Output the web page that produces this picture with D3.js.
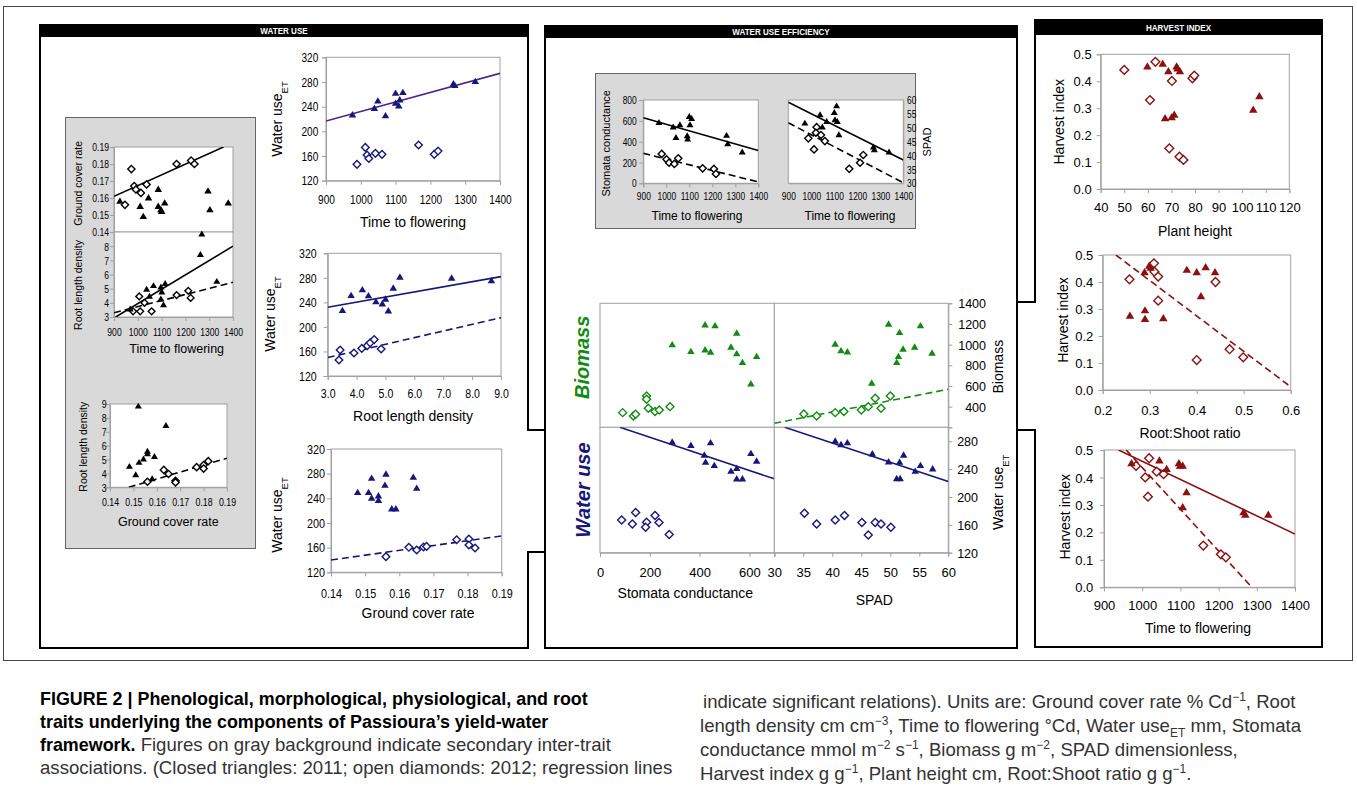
<!DOCTYPE html>
<html>
<head>
<meta charset="utf-8">
<script src="https://d3js.org/d3.v7.min.js"></script>
<style>
  body { margin:0; background:#fff; }
  #fig { position:absolute; left:0; top:0; }
  .cap { position:absolute; white-space:nowrap; font-family:'Liberation Sans',Arial,sans-serif;
         font-size:18.6px; line-height:20px; color:#333; }
  .cap b { color:#000; font-size:17.9px; }
  .cap sup, .cap sub { font-size:12px; line-height:0; }
</style>
</head>
<body>
<svg id="fig" width="1357" height="792"></svg>

<div class="cap" style="left:40px;top:689px"><b>FIGURE 2 | Phenological, morphological, physiological, and root</b></div>
<div class="cap" style="left:40px;top:712px"><b>traits underlying the components of Passioura’s yield-water</b></div>
<div class="cap" style="left:40px;top:735px"><b>framework.</b> Figures on gray background indicate secondary inter-trait</div>
<div class="cap" style="left:40px;top:758px">associations. (Closed triangles: 2011; open diamonds: 2012; regression lines</div>
<div class="cap" style="left:703px;top:692px">indicate significant relations). Units are: Ground cover rate % Cd<sup>−1</sup>, Root</div>
<div class="cap" style="left:700px;top:716px">length density cm cm<sup>−3</sup>, Time to flowering °Cd, Water use<sub>ET</sub> mm, Stomata</div>
<div class="cap" style="left:700px;top:740px">conductance mmol m<sup>−2</sup> s<sup>−1</sup>, Biomass g m<sup>−2</sup>, SPAD dimensionless,</div>
<div class="cap" style="left:700px;top:764px">Harvest index g g<sup>−1</sup>, Plant height cm, Root:Shoot ratio g g<sup>−1</sup>.</div>

<script>
// values: tri = closed triangles (2011), dia = open diamonds (2012)

// gray panel, left: ground cover rate / root length density vs time to flowering
var gcFlowTri = [[925,0.158],[1010,0.155],[1023,0.149],[1045,0.160],[1086,0.165],[1086,0.155],[1097,0.153],[1100,0.152],[1113,0.157],[1295,0.164],[1303,0.153],[1380,0.157]];
var gcFlowDia = [[946,0.156],[973,0.177],[985,0.167],[992,0.165],[1013,0.163],[1037,0.168],[1163,0.180],[1224,0.182],[1238,0.180]];
var gcFlowFit = [[900,0.161],[1360,0.19]];
var rldFlowTri = [[1269,8.85],[1263,7.4],[1332,5.5],[1037,4.95],[1066,5.2],[1115,5.35],[1097,5.1],[1101,4.75],[1049,4.45],[1097,4.25],[1108,3.85],[968,3.55]];
var rldFlowDia = [[1006,4.45],[1028,4.0],[1010,3.4],[980,3.4],[1058,3.4],[1163,4.55],[1212,4.85],[1222,4.35]];
var rldFlowFitTri = [[907,3.0],[1400,8.0]];
var rldFlowFitDia = [[900,3.3],[1400,5.45]];
var rldGcTri = [[0.1521,8.83],[0.1639,7.43],[0.1483,4.49],[0.151,3.89],[0.1524,4.78],[0.1543,5.02],[0.156,5.58],[0.156,5.4],[0.159,5.2],[0.158,3.6]];
var rldGcDia = [[0.156,3.4],[0.163,4.25],[0.165,3.96],[0.168,3.47],[0.168,3.35],[0.177,4.45],[0.180,4.6],[0.180,4.35],[0.182,4.88]];
var rldGcFit = [[0.148,3.0],[0.19,5.1]];

// water use panels
var wuFlowTri = [[976,226.5],[1039,237],[1049,249],[1071,225],[1100,261.6],[1100,245.4],[1109,241],[1112,250.8],[1121,262.7],[1266,276.8],[1270,274],[1329,280.5]];
var wuFlowDia = [[989,146.5],[1013,174],[1018,161.6],[1023,156],[1042,164.3],[1061,162.7],[1166,177.8],[1211,162.7],[1222,168]];
var wuFlowFit = [[900,216.8],[1400,294]];
var wuRldTri = [[3.51,226.5],[3.81,251],[4.2,260.3],[4.41,250.5],[4.67,240.8],[4.89,237.4],[5.0,245],[5.1,226],[5.27,263],[5.5,280.9],[7.29,279.3],[8.67,275]];
var wuRldDia = [[3.43,162.4],[3.39,146],[3.91,157.4],[4.18,165],[4.37,169.5],[4.47,174],[4.61,179.3],[4.85,164]];
var wuRldFitTri = [[3,232],[9,282]];
var wuRldFitDia = [[3,150],[9,215]];
var wuGcTri = [[0.1478,249.2],[0.151,249.2],[0.1519,272.4],[0.1519,240],[0.1539,243.8],[0.1539,236.5],[0.1561,279],[0.1558,261],[0.1578,222.7],[0.159,222.7],[0.1641,274],[0.1651,256.2]];
var wuGcDia = [[0.1561,145.4],[0.1628,160.5],[0.1651,156.2],[0.1671,161],[0.168,162],[0.1768,172.7],[0.1804,174],[0.1804,164.3],[0.1822,159.5]];
var wuGcFit = [[0.14,140],[0.19,179]];

// gray panel, WUE: stomata conductance / SPAD vs time to flowering
var gsFlowTri = [[968,582],[1030,538],[1042,438],[1059,560],[1091,454],[1093,422],[1100,640],[1110,621],[1103,560],[1262,458],[1267,378],[1330,298]];
var gsFlowDia = [[980,282],[1001,230],[1012,198],[1035,186],[1052,240],[1158,144],[1207,138],[1216,90]];
var gsFlowFitTri = [[900,630],[1400,314]];
var gsFlowFitDia = [[900,288],[1400,13]];
var spadFlowTri = [[972,51.6],[1038,54.6],[1048,50.2],[1067,52.2],[1100,55.4],[1110,57.8],[1103,52.8],[1113,52.2],[1120,47.4],[1270,43],[1274,42],[1338,41.2]];
var spadFlowDia = [[987,46.2],[1012,42.2],[1023,50.2],[1020,48.2],[1042,47.4],[1059,45.2],[1165,35.2],[1212,37.4],[1226,40.2]];
var spadFlowFitTri = [[900,59.2],[1400,38.4]];
var spadFlowFitDia = [[900,51.8],[1400,30.2]];

// biomass and water use vs stomata conductance / SPAD
var bioGsTri = [[290,997],[365,932],[422,1190],[462,1181],[422,948],[444,926],[526,974],[549,1110],[549,910],[572,826],[629,884],[606,619]];
var bioGsDia = [[91,342],[134,310],[143,326],[187,503],[187,471],[194,384],[221,352],[238,368],[281,400]];
var bioSpadTri = [[40.5,1003],[41.5,939],[42.6,929],[46.8,626],[49.7,1197],[51.6,1116],[51.1,826],[51.4,884],[52.2,955],[54.2,974],[55.2,1181],[57.2,916]];
var bioSpadDia = [[35.1,329],[37.3,310],[40.5,342],[42.0,352],[45.0,368],[46.2,400],[47.4,481],[48.4,384],[50.0,503]];
var bioSpadFit = [[30,239],[60,568]];
var wuGsTri = [[290,278.6],[365,273.8],[444,277.6],[419,259.8],[424,249.7],[459,245],[526,236.8],[549,240.6],[549,225.7],[572,225.7],[606,262.2],[629,251.2]];
var wuGsDia = [[87,167],[130,161.3],[143,177.6],[187,163.7],[183,156.5],[221,173.3],[237,163.2],[278,146]];
var wuGsFit = [[80,300],[700,226]];
var wuSpadTri = [[40.5,280],[41.5,275],[42.6,277.6],[46.9,261.7],[49.7,250.2],[51.6,249.7],[52.3,259.8],[51.1,226.2],[51.7,226.2],[54.3,236.8],[55.2,245],[57.3,240.1]];
var wuSpadDia = [[35.2,176.7],[37.3,161.3],[40.5,167],[42.1,173.3],[45.1,163.2],[46.2,145.5],[47.4,163.2],[48.4,161.3],[50.1,156.5]];
var wuSpadFit = [[31.8,300],[60,222.3]];

// harvest index panels
var hiHtTri = [[59.8,0.454],[66.3,0.464],[68.7,0.436],[72.2,0.454],[72.6,0.446],[73.6,0.436],[67.3,0.262],[70.1,0.265],[71.2,0.275],[104.7,0.293],[107.3,0.343]];
var hiHtDia = [[50,0.442],[63.2,0.472],[60.9,0.33],[70.2,0.401],[78.9,0.411],[79.7,0.421],[69.1,0.151],[73.4,0.12],[75.1,0.108]];
var hiRsTri = [[0.258,0.274],[0.289,0.435],[0.29,0.294],[0.29,0.262],[0.299,0.459],[0.302,0.452],[0.329,0.265],[0.379,0.444],[0.4,0.435],[0.419,0.454],[0.439,0.435],[0.409,0.346]];
var hiRsDia = [[0.257,0.41],[0.309,0.469],[0.31,0.438],[0.318,0.42],[0.318,0.331],[0.44,0.4],[0.4,0.111],[0.47,0.151],[0.499,0.121]];
var hiRsFit = [[0.228,0.5],[0.6,0.012]];
var hiFlowTri = [[972,0.451],[1045,0.461],[1064,0.43],[1096,0.451],[1099,0.442],[1106,0.442],[1116,0.345],[1106,0.291],[1265,0.272],[1270,0.263],[1330,0.263]];
var hiFlowDia = [[984,0.442],[1018,0.47],[1008,0.4],[1015,0.33],[1038,0.421],[1056,0.412],[1160,0.152],[1206,0.12],[1219,0.109]];
var hiFlowFitTri = [[938,0.5],[1400,0.194]];
var hiFlowFitDia = [[958,0.5],[1287,0]];

// tick values
var flowTicks = [900,1000,1100,1200,1300,1400];
var wuTicks = [120,160,200,240,280,320];
var gcTicks = [0.14,0.15,0.16,0.17,0.18,0.19];
var rldTicks = [3,4,5,6,7,8,9];
var hiTicks = [0,0.1,0.2,0.3,0.4,0.5];
var htTicks = [40,50,60,70,80,90,100,110,120];
var rsTicks = [0.2,0.3,0.4,0.5,0.6];
var gsTicks = [0,200,400,600,800];
var spadTicks = [30,35,40,45,50,55,60];
var bioTicks = [400,600,800,1000,1200,1400];

var NAVY = "#17177a", GREEN = "#138a13", RED = "#8a1111", PURPLE = "#4a2889";
var SANS = "'Liberation Sans',Arial,sans-serif";

var svg = d3.select("#fig");
var clipN = 0;

function triPath(s){ var h = s*0.85; return "M0,"+(-h*0.62)+"L"+(s/2)+","+(h*0.38)+"L"+(-s/2)+","+(h*0.38)+"Z"; }
function diaPath(r){ return "M0,"+(-r)+"L"+r+",0L0,"+r+"L"+(-r)+",0Z"; }

// narrow the tick labels the way the original figure has them
function squeeze(sel, sx){
  if (!sx || sx === 1) return;
  sel.each(function(){
    var t = d3.select(this), x = +t.attr("x") || 0, y = +t.attr("y") || 0;
    t.attr("x", 0).attr("y", 0).attr("transform", "translate(" + x + "," + y + ") scale(" + sx + ",1)");
  });
}

function styleAxis(a, fs){
  a.attr("font-family", SANS).attr("font-size", fs);
  a.select(".domain").attr("stroke", "#a0a0a0");
  a.selectAll(".tick line").attr("stroke", "#a0a0a0");
  a.selectAll("text").attr("fill", "#000");
}

function plot(o){
  var x = d3.scaleLinear().domain(o.xd).range([o.x0, o.x1]);
  var y = d3.scaleLinear().domain(o.yd).range([o.y1, o.y0]);
  var g = svg.append("g");
  var cid = "clip" + (clipN++);
  g.append("clipPath").attr("id", cid).append("rect")
    .attr("x", o.x0).attr("y", o.y0).attr("width", o.x1 - o.x0).attr("height", o.y1 - o.y0);
  g.append("rect").attr("x", o.x0).attr("y", o.y0).attr("width", o.x1 - o.x0).attr("height", o.y1 - o.y0)
    .attr("fill", "#fff").attr("stroke", "#a0a0a0").attr("stroke-width", 1);

  var fs = o.fs || 12;
  if (o.yt) {
    var ax0 = o.yRight ? o.x1 : o.x0;
    var ya = (o.yRight ? d3.axisRight(y) : d3.axisLeft(y)).tickValues(o.yt)
      .tickFormat(o.yf || d3.format("d")).tickSize(o.tick == null ? 4 : o.tick);
    var ag = g.append("g").attr("transform", "translate(" + ax0 + ",0)").call(ya);
    styleAxis(ag, fs);
    ag.selectAll("text").attr("text-anchor", o.yAnchor || "end").attr("x", o.ylx - ax0).attr("dy", "0.35em");
    squeeze(ag.selectAll("text"), o.sx);
  }
  if (o.xt) {
    var xa = d3.axisBottom(x).tickValues(o.xt).tickFormat(o.xf || d3.format("d")).tickSize(o.tick == null ? 4 : o.tick);
    var bg = g.append("g").attr("transform", "translate(0," + o.y1 + ")").call(xa);
    styleAxis(bg, o.xfs || fs);
    bg.selectAll("text").attr("y", o.xly - o.y1).attr("dy", "0.35em");
    squeeze(bg.selectAll("text"), o.sx);
  }
  (o.fits || []).forEach(function(f){
    g.append("path").attr("clip-path", "url(#" + cid + ")")
      .attr("d", d3.line().x(function(d){ return x(d[0]); }).y(function(d){ return y(d[1]); })(f.pts))
      .attr("fill", "none").attr("stroke", f.color || o.color).attr("stroke-width", 1.6)
      .attr("stroke-dasharray", f.dash ? "7,4" : null);
  });
  g.selectAll(null).data(o.dia || []).join("path")
    .attr("transform", function(d){ return "translate(" + x(d[0]) + "," + y(d[1]) + ")"; })
    .attr("d", diaPath(o.r || 3.8)).attr("fill", "#fff").attr("stroke", o.color).attr("stroke-width", 1.4);
  g.selectAll(null).data(o.tri || []).join("path")
    .attr("transform", function(d){ return "translate(" + x(d[0]) + "," + y(d[1]) + ")"; })
    .attr("d", triPath(o.s || 7.5)).attr("fill", o.color);
  return { x: x, y: y };
}

function txt(x, y, s, o){
  o = o || {};
  var t = svg.append("text").attr("x", x).attr("y", y).attr("dy", "0.35em")
    .attr("text-anchor", o.anchor || "middle")
    .attr("font-family", SANS).attr("font-size", o.fs || 14).attr("fill", o.fill || "#000");
  if (o.rot) t.attr("transform", "rotate(" + o.rot + "," + x + "," + y + ")");
  if (o.sx) t.attr("x", 0).attr("y", 0).attr("transform", "translate(" + x + "," + y + ") scale(" + o.sx + ",1)");
  if (o.bold) t.attr("font-weight", "bold");
  if (o.italic) t.attr("font-style", "italic");
  t.append("tspan").text(s);
  if (o.sub) t.append("tspan").attr("baseline-shift", "sub").attr("font-size", (o.fs || 14) * 0.68).text(o.sub);
  return t;
}

function box(d){
  svg.append("path").attr("d", d).attr("fill", "none").attr("stroke", "#000").attr("stroke-width", 2);
}
function header(x0, x1, y0, y1, s){
  svg.append("rect").attr("x", x0).attr("y", y0).attr("width", x1 - x0).attr("height", y1 - y0).attr("fill", "#000");
  txt((x0 + x1) / 2, (y0 + y1) / 2, s, { fs: 9.5, bold: true, fill: "#fff", sx: 0.85 });
}

// outer frame and section boxes
svg.append("rect").attr("x", 3.5).attr("y", 6.5).attr("width", 1349).attr("height", 654)
  .attr("fill", "none").attr("stroke", "#444").attr("stroke-width", 1);
box("M40,25H528V430H545V552H528V648H40Z");
box("M545,26H1017V648H545Z");
box("M1035,20H1322V647H1035V430H1017V302H1035Z");
header(40, 528, 25, 37, "WATER USE");
header(545, 1017, 26, 38, "WATER USE EFFICIENCY");
header(1035, 1322, 20, 35, "HARVEST INDEX");

// gray panels
svg.append("rect").attr("x", 65.5).attr("y", 117.5).attr("width", 190).attr("height", 431)
  .attr("fill", "#d9d9d9").attr("stroke", "#666");
svg.append("rect").attr("x", 595.5).attr("y", 73.5).attr("width", 320).attr("height", 155)
  .attr("fill", "#d9d9d9").attr("stroke", "#666");

// ---- WATER USE column ----
plot({ x0:114, x1:233, y0:147, y1:232, xd:[900,1400], yd:[0.14,0.19], yt:gcTicks, yf:d3.format(".2f"),
  ylx:109, fs:11, sx:0.78, color:"#000", tri:gcFlowTri, dia:gcFlowDia, r:3.6, s:7.5,
  fits:[{pts:gcFlowFit}] });
plot({ x0:114, x1:233, y0:232, y1:317, xd:[900,1400], yd:[3,9], yt:[3,4,5,6,7,8], ylx:109,
  xt:flowTicks, xly:331.7, fs:11, sx:0.78, color:"#000", tri:rldFlowTri, dia:rldFlowDia, r:3.4, s:7,
  fits:[{pts:rldFlowFitTri}, {pts:rldFlowFitDia, dash:true}] });
txt(78.3, 183.3, "Ground cover rate", { fs:10.5, rot:-90 });
txt(78.3, 285, "Root length density", { fs:10.5, rot:-90 });
txt(176.7, 349, "Time to flowering", { fs:12.5 });

plot({ x0:110, x1:227, y0:404, y1:487.3, xd:[0.14,0.19], yd:[3,9], yt:rldTicks, ylx:106.7,
  xt:gcTicks, xf:d3.format(".2f"), xly:501.7, fs:11, sx:0.8, color:"#000",
  tri:rldGcTri, dia:rldGcDia, r:3.6, s:7, fits:[{pts:rldGcFit, dash:true}] });
txt(83.3, 446.7, "Root length density", { fs:10.5, rot:-90 });
txt(168.3, 521.7, "Ground cover rate", { fs:12.5 });

plot({ x0:326, x1:500, y0:57.3, y1:180.7, xd:[900,1400], yd:[120,320], yt:wuTicks, ylx:318.3,
  xt:flowTicks, xly:199.3, fs:12, sx:0.84, color:NAVY, tri:wuFlowTri, dia:wuFlowDia,
  fits:[{pts:wuFlowFit, color:PURPLE}] });
txt(277, 119, "Water use", { rot:-90, sub:"ET" });
txt(413, 221.7, "Time to flowering");

plot({ x0:327.7, x1:501, y0:253.3, y1:376, xd:[3,9], yd:[120,320], yt:wuTicks, ylx:316.7,
  xt:[3,4,5,6,7,8,9], xf:d3.format(".1f"), xly:393.3, fs:12, sx:0.88, color:NAVY,
  tri:wuRldTri, dia:wuRldDia, fits:[{pts:wuRldFitTri}, {pts:wuRldFitDia, dash:true}] });
txt(270, 314, "Water use", { rot:-90, sub:"ET" });
txt(413, 416, "Root length density");

plot({ x0:331, x1:501.7, y0:449, y1:572.3, xd:[0.14,0.19], yd:[120,320], yt:wuTicks, ylx:325,
  xt:gcTicks, xf:d3.format(".2f"), xly:593.3, fs:12, sx:0.9, color:NAVY,
  tri:wuGcTri, dia:wuGcDia, fits:[{pts:wuGcFit, dash:true}] });
txt(277, 515, "Water use", { rot:-90, sub:"ET" });
txt(418, 613.3, "Ground cover rate");

// ---- WATER USE EFFICIENCY column ----
plot({ x0:643.3, x1:758.3, y0:100, y1:183.3, xd:[900,1400], yd:[0,800], yt:gsTicks, ylx:636.7,
  xt:flowTicks, xly:196.7, fs:10.5, sx:0.8, color:"#000", tri:gsFlowTri, dia:gsFlowDia, r:3.6, s:7,
  fits:[{pts:gsFlowFitTri}, {pts:gsFlowFitDia, dash:true}] });
txt(606, 143.3, "Stomata conductance", { fs:11, rot:-90 });
txt(697, 216, "Time to flowering", { fs:12 });

plot({ x0:788.3, x1:903.3, y0:100, y1:183.3, xd:[900,1400], yd:[30,60], yt:spadTicks, yRight:true,
  ylx:907, yAnchor:"start", tick:0,
  xt:flowTicks, xly:196.7, fs:10.5, sx:0.8, color:"#000", tri:spadFlowTri, dia:spadFlowDia, r:3.6, s:7,
  fits:[{pts:spadFlowFitTri}, {pts:spadFlowFitDia, dash:true}] });
txt(927, 142, "SPAD", { fs:11, rot:-90 });
txt(850, 216, "Time to flowering", { fs:12 });

plot({ x0:600, x1:774.3, y0:303.3, y1:427.3, xd:[0,700], yd:[200,1400], color:GREEN,
  tri:bioGsTri, dia:bioGsDia, r:4, s:7.5 });
plot({ x0:774.3, x1:948.3, y0:303.3, y1:427.3, xd:[30,60], yd:[200,1400], yt:bioTicks, yRight:true,
  ylx:986, fs:12.5, color:GREEN, tri:bioSpadTri, dia:bioSpadDia, r:4, s:7.5,
  fits:[{pts:bioSpadFit, dash:true}] });
plot({ x0:600, x1:774.3, y0:427.3, y1:552.7, xd:[0,700], yd:[120,300], xt:[0,200,400,600], xly:572.7,
  fs:13, color:NAVY, tri:wuGsTri, dia:wuGsDia, r:4, s:7.5, fits:[{pts:wuGsFit}] });
plot({ x0:774.3, x1:948.3, y0:427.3, y1:552.7, xd:[30,60], yd:[120,300], yt:[120,160,200,240,280], yRight:true,
  ylx:978, xt:spadTicks, xly:572.7, fs:12.5, xfs:13, color:NAVY, tri:wuSpadTri, dia:wuSpadDia, r:4, s:7.5,
  fits:[{pts:wuSpadFit}] });
txt(581.7, 357.3, "Biomass", { fs:20, bold:true, italic:true, fill:GREEN, rot:-90 });
txt(583.3, 490, "Water use", { fs:20, bold:true, italic:true, fill:NAVY, rot:-90 });
txt(998.3, 366.7, "Biomass", { rot:-90 });
txt(998.3, 492.3, "Water use", { rot:-90, sub:"ET" });
txt(685.3, 593, "Stomata conductance");
txt(874.3, 600, "SPAD");

// ---- HARVEST INDEX column ----
plot({ x0:1100.7, x1:1289.3, y0:54.3, y1:189, xd:[40,120], yd:[0,0.5], yt:hiTicks, yf:d3.format(".1f"),
  ylx:1091.7, xt:htTicks, xly:207.7, fs:13, color:RED, tri:hiHtTri, dia:hiHtDia, r:4.4, s:8.5 });
txt(1059.3, 121.7, "Harvest index", { rot:-90 });
txt(1195, 231, "Plant height");

plot({ x0:1102.7, x1:1290.7, y0:255, y1:390, xd:[0.2,0.6], yd:[0,0.5], yt:hiTicks, yf:d3.format(".1f"),
  ylx:1093.3, xt:rsTicks, xf:d3.format(".1f"), xly:410, fs:13, color:RED, tri:hiRsTri, dia:hiRsDia,
  r:4.4, s:8.5, fits:[{pts:hiRsFit, dash:true}] });
txt(1062.7, 320, "Harvest index", { rot:-90 });
txt(1190, 432.7, "Root:Shoot ratio");

plot({ x0:1104, x1:1295, y0:450, y1:587.3, xd:[900,1400], yd:[0,0.5], yt:hiTicks, yf:d3.format(".1f"),
  ylx:1093.3, xt:flowTicks, xly:605, fs:13, color:RED, tri:hiFlowTri, dia:hiFlowDia, r:4.4, s:8.5,
  fits:[{pts:hiFlowFitTri}, {pts:hiFlowFitDia, dash:true}] });
txt(1065, 516.7, "Harvest index", { rot:-90 });
txt(1198, 628.3, "Time to flowering");
</script>
</body>
</html>
